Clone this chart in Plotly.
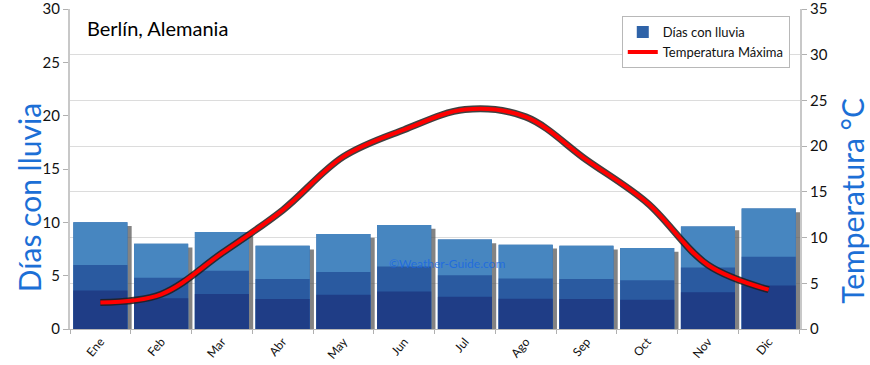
import plotly.graph_objects as go

months = ["Ene", "Feb", "Mar", "Abr", "May", "Jun", "Jul", "Ago", "Sep", "Oct", "Nov", "Dic"]
rain_days = [10.0, 8.0, 9.1, 7.8, 8.9, 9.75, 8.4, 7.9, 7.8, 7.6, 9.6, 11.3]
max_temp = [2.9, 3.8, 8.3, 13.0, 18.85, 21.8, 24.0, 23.2, 18.5, 13.8, 7.0, 4.3]

left_ticks = [0, 5, 10, 15, 20, 25, 30]
right_ticks = [0, 5, 10, 15, 20, 25, 30, 35]

FONT = "Lato"
BAR_W = 0.89

fig = go.Figure()

# bar shadows
fig.add_trace(go.Bar(
    x=months, y=[v - 0.35 for v in rain_days], width=BAR_W, offset=-BAR_W / 2 + 0.07,
    marker=dict(color="rgba(90,90,90,0.75)", line=dict(width=0)),
    showlegend=False, hoverinfo="skip", yaxis="y"))
# main bars
fig.add_trace(go.Bar(
    x=months, y=rain_days, width=BAR_W, offset=-BAR_W / 2, name="Días con lluvia",
    marker=dict(color="#2f63a8", line=dict(width=0)), showlegend=True, yaxis="y"))
fig.add_trace(go.Bar(
    x=months, y=rain_days, width=BAR_W, offset=-BAR_W / 2,
    marker=dict(color="#4786c0", line=dict(width=0)), showlegend=False, hoverinfo="skip", yaxis="y"))
fig.add_trace(go.Bar(
    x=months, y=[v * 0.6 for v in rain_days], width=BAR_W, offset=-BAR_W / 2,
    marker=dict(color="#2a5aa0", line=dict(width=0)), showlegend=False, hoverinfo="skip", yaxis="y"))
fig.add_trace(go.Bar(
    x=months, y=[v * 0.36 for v in rain_days], width=BAR_W, offset=-BAR_W / 2,
    marker=dict(color="#1f3d86", line=dict(width=0)), showlegend=False, hoverinfo="skip", yaxis="y"))

# temperature line: dark shadow then red
fig.add_trace(go.Scatter(
    x=months, y=max_temp, mode="lines", line=dict(color="rgba(30,30,30,0.85)", width=7, shape="spline", smoothing=1),
    showlegend=False, hoverinfo="skip", yaxis="y2"))
fig.add_trace(go.Scatter(
    x=months, y=max_temp, mode="lines", name="Temperatura Máxima",
    line=dict(color="#ff0000", width=4, shape="spline", smoothing=1), yaxis="y2"))

fig.update_layout(
    width=870, height=365,
    margin=dict(l=70, r=70, t=9, b=36),
    paper_bgcolor="white", plot_bgcolor="white",
    barmode="overlay",
    font=dict(family=FONT, size=14, color="#111111"),
    xaxis=dict(
        type="category", tickangle=-50, ticks="outside", tickson="boundaries", ticklen=4,
        tickcolor="#b0b0b0", showline=True, linecolor="#b8b8b8", linewidth=1,
        showgrid=False, automargin=False, tickfont=dict(size=12), ticklabeloverflow="allow"),
    yaxis=dict(
        range=[0, 30], tickvals=left_ticks, showgrid=False, ticks="outside", ticklen=5,
        tickcolor="#b0b0b0", showline=True, linecolor="#c8c8c8", linewidth=2, zeroline=False,
        automargin=False, tickfont=dict(size=15), ticklabeloverflow="allow"),
    yaxis2=dict(
        range=[0, 35], tickvals=right_ticks, overlaying="y", side="right", showgrid=True,
        gridcolor="#dcdcdc", gridwidth=1, ticks="outside", ticklen=5, tickcolor="#b0b0b0",
        showline=True, linecolor="#c8c8c8", linewidth=2, zeroline=False, automargin=False,
        tickfont=dict(size=15), ticklabeloverflow="allow"),
    legend=dict(
        x=0.986, xanchor="right", y=0.978, yanchor="top",
        bgcolor="white", bordercolor="#b8b8b8", borderwidth=1,
        font=dict(size=13), tracegroupgap=2, itemwidth=30),
    annotations=[
        dict(text="Berlín, Alemania", xref="paper", yref="paper", x=0.02, y=0.94,
             xanchor="left", yanchor="middle", showarrow=False, font=dict(size=20, color="#000000")),
        dict(text="Días con lluvia", xref="paper", yref="paper", x=-0.057, y=0.41,
             xanchor="center", yanchor="middle", textangle=-90, showarrow=False,
             font=dict(size=30, color="#1c6fd6")),
        dict(text="Temperatura °C", xref="paper", yref="paper", x=1.071, y=0.40,
             xanchor="center", yanchor="middle", textangle=-90, showarrow=False,
             font=dict(size=30, color="#1c6fd6")),
        dict(text="©Weather-Guide.com", xref="paper", yref="paper", x=0.516, y=0.205,
             xanchor="center", yanchor="middle", showarrow=False,
             font=dict(size=12, color="rgba(20,100,230,0.75)")),
    ],
)

fig.write_html("out.html", config={"displayModeBar": False},
               post_script="document.body.style.margin='0';")
